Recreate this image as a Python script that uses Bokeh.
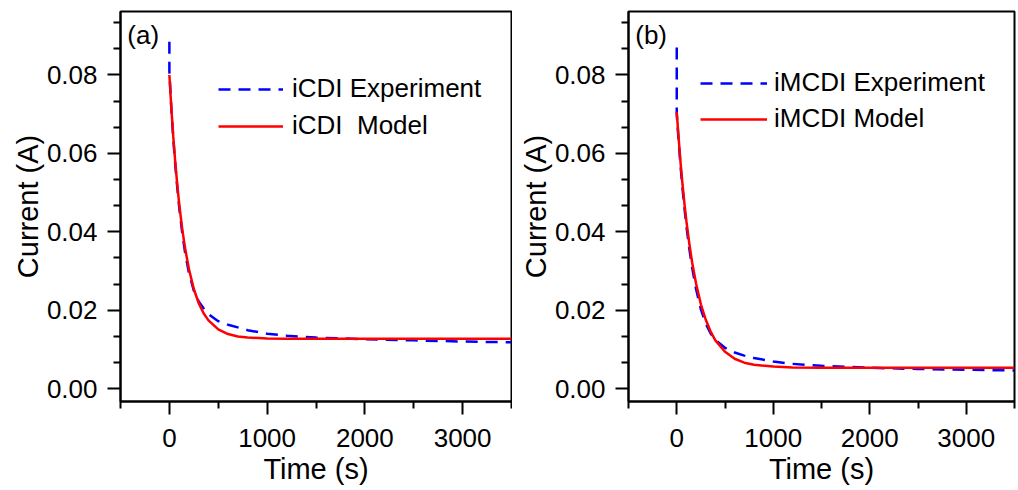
from bokeh.plotting import figure
from bokeh.layouts import row
from bokeh.models import Range1d, FixedTicker, PrintfTickFormatter, Legend, LegendItem, Label
from bokeh.embed import file_html
from bokeh.resources import INLINE

# ---- data ----
t_exp = [0, 0, 20, 40, 60, 80, 100, 130, 160, 200, 250, 300, 350, 400, 500, 600, 700, 800,
         1000, 1200, 1500, 2000, 2500, 3000, 3500]
icdi_exp = [0.0885, 0.0810, 0.0715, 0.0638, 0.0572, 0.0515, 0.0464, 0.0400, 0.0348, 0.0295,
            0.0250, 0.0222, 0.0205, 0.0190, 0.0172, 0.0163, 0.0156, 0.0149,
            0.0140, 0.0135, 0.0130, 0.0126, 0.0123, 0.0120, 0.0118]
imcdi_exp = [0.0870, 0.0700, 0.0630, 0.0566, 0.0510, 0.0460, 0.0415, 0.0357, 0.0308, 0.0254,
             0.0202, 0.0166, 0.0141, 0.0124, 0.0104, 0.0092, 0.0084, 0.0078,
             0.0069, 0.0063, 0.0058, 0.0053, 0.0050, 0.0048, 0.0046]

t_mod = [0, 20, 40, 60, 80, 100, 130, 160, 200, 250, 300, 350, 400, 500, 600, 700, 800,
         1000, 1200, 1500, 2000, 2500, 3000, 3500]
icdi_mod = [0.0800, 0.0716, 0.0642, 0.0578, 0.0522, 0.0472, 0.0410, 0.0359, 0.0305, 0.0254,
            0.0218, 0.0192, 0.0174, 0.0151, 0.0139, 0.0133, 0.0130,
            0.0128, 0.0127, 0.0127, 0.0127, 0.0127, 0.0127, 0.0127]
imcdi_mod = [0.0705, 0.0637, 0.0575, 0.0520, 0.0471, 0.0427, 0.0370, 0.0321, 0.0268, 0.0215,
             0.0176, 0.0146, 0.0123, 0.0094, 0.0076, 0.0066, 0.0061,
             0.0056, 0.0054, 0.0053, 0.0053, 0.0053, 0.0053, 0.0053]

x_major = [0, 1000, 2000, 3000]
x_minor = [-500, 500, 1500, 2500, 3500]
y_major = [0.0, 0.02, 0.04, 0.06, 0.08]
y_minor = [0.00667, 0.01333, 0.02667, 0.03333, 0.04667, 0.05333, 0.06667, 0.07333, 0.08667, 0.09333]

FONT = "Liberation Sans"


def make_panel(tag, exp_y, mod_y, exp_name, mod_name, width, border_left, border_right,
               leg_loc, leg_spacing, leg_standoff, glyph_w):
    p = figure(width=width, height=487, output_backend="svg", toolbar_location=None,
               x_range=Range1d(-500, 3500), y_range=Range1d(-0.0033, 0.0962),
               min_border_left=border_left, min_border_right=border_right,
               min_border_top=11, min_border_bottom=10)
    p.grid.visible = False
    p.outline_line_color = "black"
    p.outline_line_width = 2
    p.background_fill_color = "white"
    p.border_fill_color = "white"

    p.xaxis.ticker = FixedTicker(ticks=x_major, minor_ticks=x_minor)
    p.yaxis.ticker = FixedTicker(ticks=y_major, minor_ticks=y_minor)
    p.xaxis.formatter = PrintfTickFormatter(format="%d")
    p.yaxis.formatter = PrintfTickFormatter(format="%.2f")
    for ax in (p.xaxis, p.yaxis):
        ax.axis_line_width = 2
        ax.major_tick_line_width = 2
        ax.minor_tick_line_width = 2
        ax.major_tick_out = 13
        ax.major_tick_in = 0
        ax.minor_tick_out = 7
        ax.minor_tick_in = 0
        ax.major_label_text_font = FONT
        ax.major_label_text_font_size = "26px"
        ax.major_label_text_color = "black"
        ax.axis_label_text_font = FONT
        ax.axis_label_text_font_size = "29px"
        ax.axis_label_text_font_style = "normal"
        ax.axis_label_text_color = "black"
    p.xaxis.axis_label = "Time (s)"
    p.yaxis.axis_label = "Current (A)"
    p.xaxis.major_label_standoff = 14
    p.xaxis.axis_label_standoff = 3
    p.yaxis.major_label_standoff = 10
    p.yaxis.axis_label_standoff = 0

    r_exp = p.line(t_exp, exp_y, line_color="#0000ff", line_width=2.5, line_dash="12 8")
    r_mod = p.line(t_mod, mod_y, line_color="#ff0000", line_width=2.5)

    legend = Legend(items=[LegendItem(label=exp_name, renderers=[r_exp]),
                           LegendItem(label=mod_name, renderers=[r_mod])],
                    location=leg_loc, padding=0, margin=0, spacing=leg_spacing,
                    glyph_width=glyph_w, glyph_height=20, label_height=20,
                    label_standoff=leg_standoff,
                    label_text_font=FONT, label_text_font_size="26px",
                    label_text_color="black",
                    border_line_color=None, background_fill_alpha=0)
    p.add_layout(legend, "center")

    p.add_layout(Label(x=-430, y=0.0902, text=tag, text_font=FONT, text_font_size="26px",
                       text_baseline="middle", text_align="left", text_color="black"))
    return p


p1 = make_panel("(a)", icdi_exp, icdi_mod, "iCDI Experiment", "iCDI  Model",
                width=512, border_left=120, border_right=1,
                leg_loc=(98, 260), leg_spacing=6, leg_standoff=9, glyph_w=65)
p2 = make_panel("(b)", imcdi_exp, imcdi_mod, "iMCDI Experiment", "iMCDI Model",
                width=504, border_left=116, border_right=2,
                leg_loc=(72, 267), leg_spacing=5, leg_standoff=7, glyph_w=67)

layout = row(p1, p2)
open("out.html", "w").write(file_html(layout, INLINE))
